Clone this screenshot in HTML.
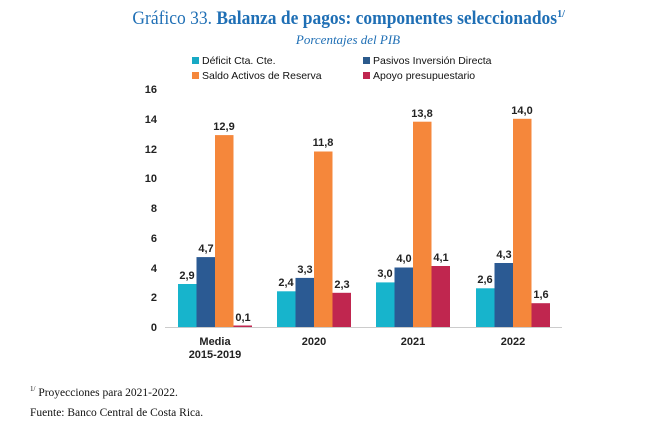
<!DOCTYPE html>
<html><head><meta charset="utf-8"><style>
body{margin:0;background:#fff;width:650px;height:422px;overflow:hidden}
svg{display:block}
</style></head><body>
<svg width="650" height="422" xmlns="http://www.w3.org/2000/svg">
<text x="347" y="24" text-anchor="middle" font-family="Liberation Serif, serif" font-size="19" fill="#1f6fb5" transform="scale(0.92,1) translate(32,0)"><tspan>Gráfico 33. </tspan><tspan font-weight="bold">Balanza de pagos: componentes seleccionados</tspan><tspan font-size="11" dy="-7" font-weight="bold">1/</tspan></text>
<text x="348" y="44" text-anchor="middle" font-family="Liberation Serif, serif" font-style="italic" font-size="13" fill="#1f6fb5">Porcentajes del PIB</text>
<g font-family="Liberation Sans, sans-serif" font-size="10.5" fill="#111">
<rect x="192" y="57" width="7" height="7" fill="#17a9c4"/><text x="202" y="64">Déficit Cta. Cte.</text>
<rect x="363" y="57" width="7" height="7" fill="#2b5a8c"/><text x="373" y="64">Pasivos Inversión Directa</text>
<rect x="192" y="72" width="7" height="7" fill="#f5873b"/><text x="202" y="79">Saldo Activos de Reserva</text>
<rect x="363" y="72" width="7" height="7" fill="#c0264f"/><text x="373" y="79">Apoyo presupuestario</text>
</g>
<g font-family="Liberation Sans, sans-serif" font-size="11" font-weight="bold" fill="#222" text-anchor="end">
<text x="157" y="331">0</text><text x="157" y="301">2</text><text x="157" y="272">4</text><text x="157" y="242">6</text><text x="157" y="212">8</text><text x="157" y="182">10</text><text x="157" y="153">12</text><text x="157" y="123">14</text><text x="157" y="93">16</text>
</g>
<line x1="165" y1="327.5" x2="562" y2="327.5" stroke="#ccc" stroke-width="1"/>
<g font-family="Liberation Sans, sans-serif" font-size="11" font-weight="bold" fill="#222" text-anchor="middle">
<rect x="178" y="284" width="18.5" height="43.1" fill="#17b4cc"/><text x="187" y="279">2,9</text>
<rect x="196.5" y="257.1" width="18.5" height="69.9" fill="#2b5a93"/><text x="206" y="252">4,7</text>
<rect x="215" y="135.1" width="18.5" height="191.9" fill="#f5873b"/><text x="224" y="130">12,9</text>
<rect x="233.5" y="325.5" width="18.5" height="1.5" fill="#c0264f"/><text x="243" y="321">0,1</text>
<rect x="277" y="291.3" width="18.5" height="35.7" fill="#17b4cc"/><text x="286" y="286">2,4</text>
<rect x="295.5" y="277.9" width="18.5" height="49.1" fill="#2b5a93"/><text x="305" y="273">3,3</text>
<rect x="314" y="151.5" width="18.5" height="175.5" fill="#f5873b"/><text x="323" y="146">11,8</text>
<rect x="332.5" y="292.8" width="18.5" height="34.2" fill="#c0264f"/><text x="342" y="288">2,3</text>
<rect x="376" y="282.4" width="18.5" height="44.6" fill="#17b4cc"/><text x="385" y="277">3,0</text>
<rect x="394.5" y="267.5" width="18.5" height="59.5" fill="#2b5a93"/><text x="404" y="262">4,0</text>
<rect x="413" y="121.7" width="18.5" height="205.3" fill="#f5873b"/><text x="422" y="117">13,8</text>
<rect x="431.5" y="266" width="18.5" height="61" fill="#c0264f"/><text x="441" y="261">4,1</text>
<rect x="476" y="288.3" width="18.5" height="38.7" fill="#17b4cc"/><text x="485" y="283">2,6</text>
<rect x="494.5" y="263" width="18.5" height="64" fill="#2b5a93"/><text x="504" y="258">4,3</text>
<rect x="513" y="118.8" width="18.5" height="208.2" fill="#f5873b"/><text x="522" y="114">14,0</text>
<rect x="531.5" y="303.2" width="18.5" height="23.8" fill="#c0264f"/><text x="541" y="298">1,6</text>
</g>
<g font-family="Liberation Sans, sans-serif" font-size="11" font-weight="bold" fill="#222" text-anchor="middle">
<text x="215" y="345">Media</text><text x="215" y="358">2015-2019</text>
<text x="314" y="345">2020</text><text x="413" y="345">2021</text><text x="513" y="345">2022</text>
</g>
<g font-family="Liberation Serif, serif" font-size="11.5" fill="#111">
<text x="30" y="396"><tspan font-size="7" dy="-5">1/</tspan><tspan dy="5"> Proyecciones para 2021-2022.</tspan></text>
<text x="30" y="416">Fuente: Banco Central de Costa Rica.</text>
</g>
</svg>
</body></html>
